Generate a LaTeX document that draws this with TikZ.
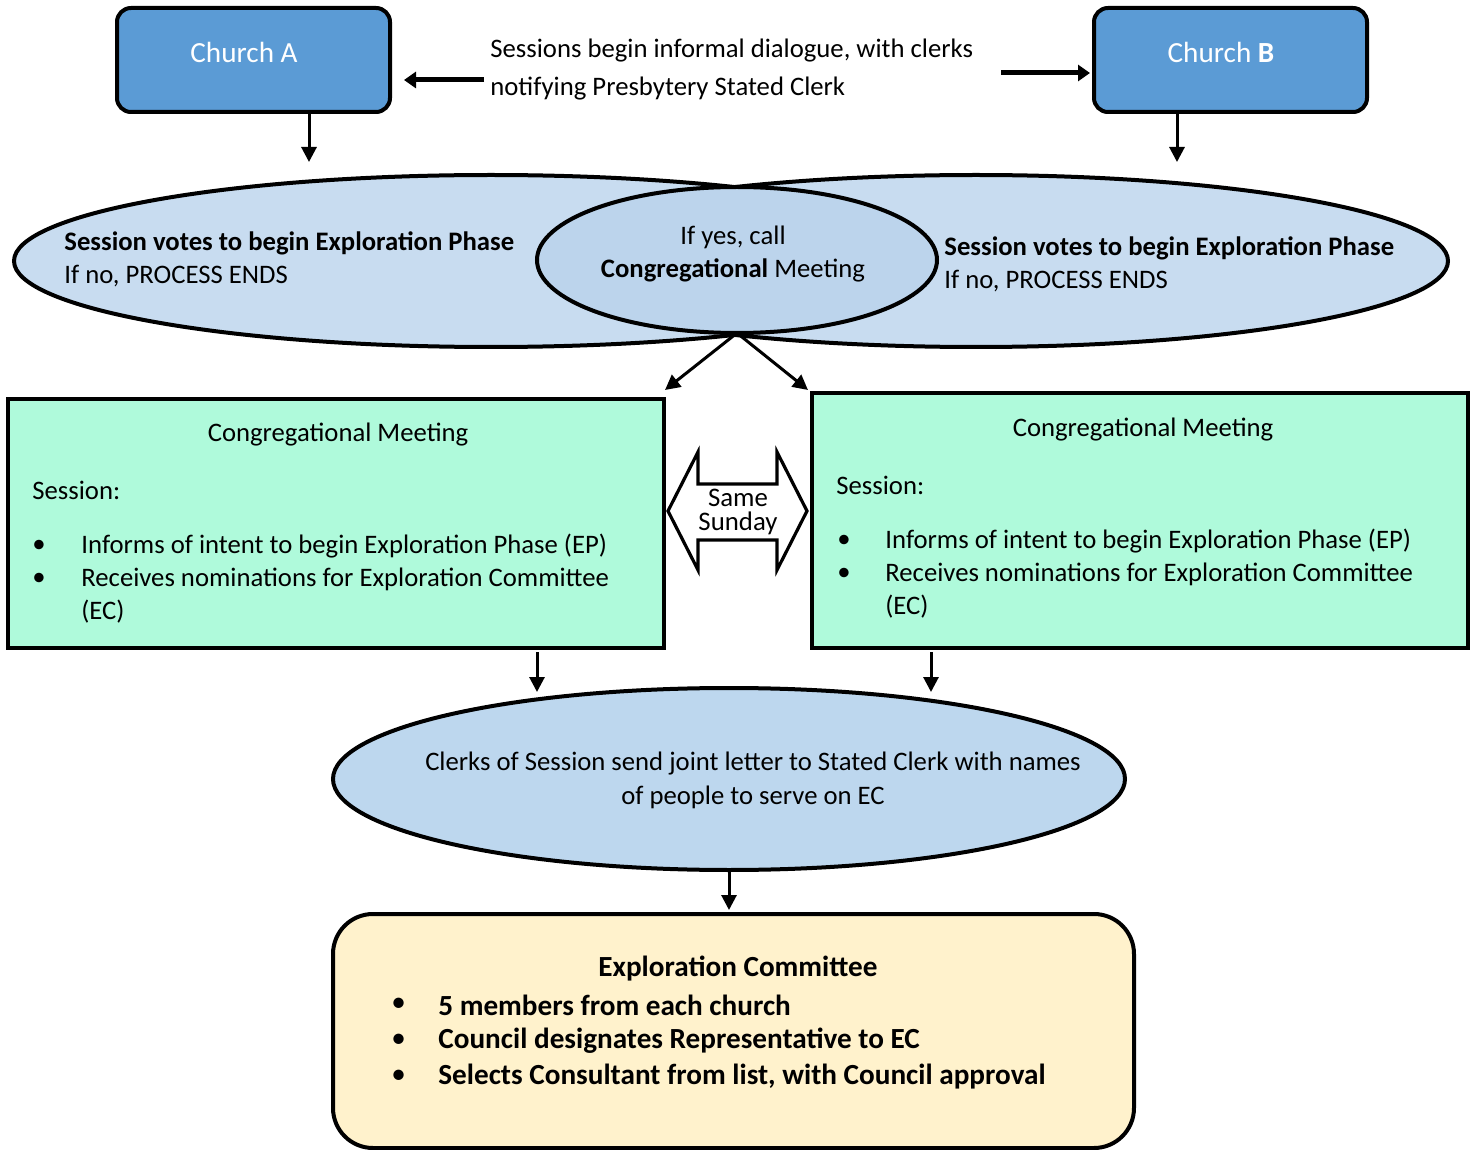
\documentclass[tikz,border=0pt]{standalone}
\usepackage{fontspec}
\setmainfont{Carlito}
\usetikzlibrary{shapes.geometric,arrows.meta,calc}
\definecolor{churchblue}{HTML}{5B9BD5}
\definecolor{ellbig}{HTML}{C8DCF0}
\definecolor{ellmid}{HTML}{BCD4EC}
\definecolor{ellbot}{HTML}{BDD7EE}
\definecolor{mint}{HTML}{AFFADB}
\definecolor{cream}{HTML}{FFF2CC}
\begin{document}
\begin{tikzpicture}[x=0.5pt,y=-0.5pt,
  every node/.style={font=\fontsize{13.35}{16.5}\selectfont},
  big/.style={font=\fontsize{14.6}{18}\selectfont},
  church/.style={draw, line width=2pt, rounded corners=7pt, fill=churchblue, minimum width=136.5pt, minimum height=52pt, inner sep=0pt},
  ell/.style={ellipse, draw, line width=2pt, inner sep=0pt},
  greenbox/.style={draw, line width=2pt, fill=mint, minimum width=328pt, inner sep=0pt},
  txt/.style={inner sep=0pt, anchor=west},
  ctxt/.style={inner sep=0pt, align=center},
  arr/.style={line width=1.5pt, -{Triangle[length=7.5pt,width=7.5pt]}},
  harr/.style={line width=2.5pt, -{Triangle[length=6pt,width=8pt]}}
]
\useasboundingbox (0,0) rectangle (1474,1150);

% Church boxes
\node[church] (A) at (253.5,60) {};
\node[church] (B) at (1230.5,60) {};
\node[ctxt, big, text=white] (At) at (244,52) {Church A};
\node[ctxt, big, text=white] (Bt) at (1221,52) {Church \textbf{B}};

% dialogue text
\node[txt] (d1) at (490,51) {Sessions begin informal dialogue, with clerks};
\node[txt] (d2) at (490,89) {notifying Presbytery Stated Clerk};
\coordinate (dl) at (484,80);
\coordinate (dlend) at (404,80);
\coordinate (dr) at (1001,73);
\coordinate (drend) at (1090,73);
\draw[harr] (dl) -- (dlend);
\draw[harr] (dr) -- (drend);

% big ellipses
\begin{scope}
\clip (0,0) rectangle (735,400);
\node[ell, fill=ellbig, minimum width=477pt, minimum height=86pt] (EL) at (491,261) {};
\end{scope}
\begin{scope}
\clip (735,0) rectangle (1474,400);
\node[ell, fill=ellbig, minimum width=472pt, minimum height=86pt] (ER) at (976,261) {};
\end{scope}
\node[ell, fill=ellmid, minimum width=200pt, minimum height=73pt] (EM) at (737,260) {};

\node[txt] at (64,243) {\textbf{Session votes to begin Exploration Phase}};
\node[txt] at (64,276) {If no, PROCESS ENDS};
\node[txt] at (944,248) {\textbf{Session votes to begin Exploration Phase}};
\node[txt] at (944,281) {If no, PROCESS ENDS};
\node[ctxt] at (733,237) {If yes, call};
\node[ctxt] at (733,270) {\textbf{Congregational} Meeting};

% arrows church -> ellipses
\coordinate (Aout) at (309,112);
\coordinate (Aend) at (309,162);
\coordinate (Bout) at (1177,112);
\coordinate (Bend) at (1177,162);
\draw[arr] (Aout) -- (Aend);
\draw[arr] (Bout) -- (Bend);

% green boxes
\node[greenbox, minimum height=124.5pt] (GL) at (336,523.5) {};
\node[greenbox, minimum height=127.5pt] (GR) at (1140,520.5) {};

\coordinate (EMb) at (737,333);
\coordinate (GLin) at (665,390);
\coordinate (GRin) at (808,390);
\draw[arr] (EMb) -- (GLin);
\draw[arr] (EMb) -- (GRin);

% left box text
\node[ctxt] at (338,435) {Congregational Meeting};
\node[txt] at (32,490) {Session:};
\node[txt] at (32,546) {\textbullet};
\node[txt] at (81,546) {Informs of intent to begin Exploration Phase (EP)};
\node[txt] at (32,579) {\textbullet};
\node[txt] at (81,579) {Receives nominations for Exploration Committee};
\node[txt] at (81,612) {(EC)};
% right box text
\node[ctxt] at (1143,430) {Congregational Meeting};
\node[txt] at (836,485) {Session:};
\node[txt] at (837,541) {\textbullet};
\node[txt] at (885,541) {Informs of intent to begin Exploration Phase (EP)};
\node[txt] at (837,574) {\textbullet};
\node[txt] at (885,574) {Receives nominations for Exploration Committee};
\node[txt] at (885,607) {(EC)};

% same sunday double arrow
\draw[line width=1.6pt, fill=white, line join=miter]
  (668,511) -- (698,452) -- (698,484) -- (777,484) -- (777,452) -- (807,511)
  -- (777,570) -- (777,540) -- (698,540) -- (698,570) -- cycle;
\node[ctxt, font=\fontsize{13.4}{12}\selectfont] (ss) at (738,512) {Same\\Sunday};

% bottom ellipse
\node[ell, fill=ellbot, minimum width=396pt, minimum height=91pt] (EB) at (729,779) {};
\node[ctxt] at (753,764) {Clerks of Session send joint letter to Stated Clerk with names};
\node[ctxt] at (753,797) {of people to serve on EC};
\coordinate (GLout) at (537,652);
\coordinate (GLend) at (537,692);
\coordinate (GRout) at (931,652);
\coordinate (GRend) at (931,692);
\draw[arr] (GLout) -- (GLend);
\draw[arr] (GRout) -- (GRend);

% bottom box
\node[draw, line width=2pt, rounded corners=20pt, fill=cream, minimum width=400.5pt, minimum height=117pt, inner sep=0pt] (EC) at (733.5,1031) {};
\coordinate (EBb) at (729,872);
\coordinate (ECin) at (729,910);
\draw[arr] (EBb) -- (ECin);
\node[ctxt, big] at (738,969) {\textbf{Exploration Committee}};
\node[txt, big] at (391,1005) {\textbullet};
\node[txt, big] at (438,1005) {\textbf{5 members from each church}};
\node[txt, big] at (391,1041) {\textbullet};
\node[txt, big] at (438,1041) {\textbf{Council designates Representative to EC}};
\node[txt, big] at (391,1077) {\textbullet};
\node[txt, big] at (438,1077) {\textbf{Selects Consultant from list, with Council approval}};
\end{tikzpicture}
\end{document}
